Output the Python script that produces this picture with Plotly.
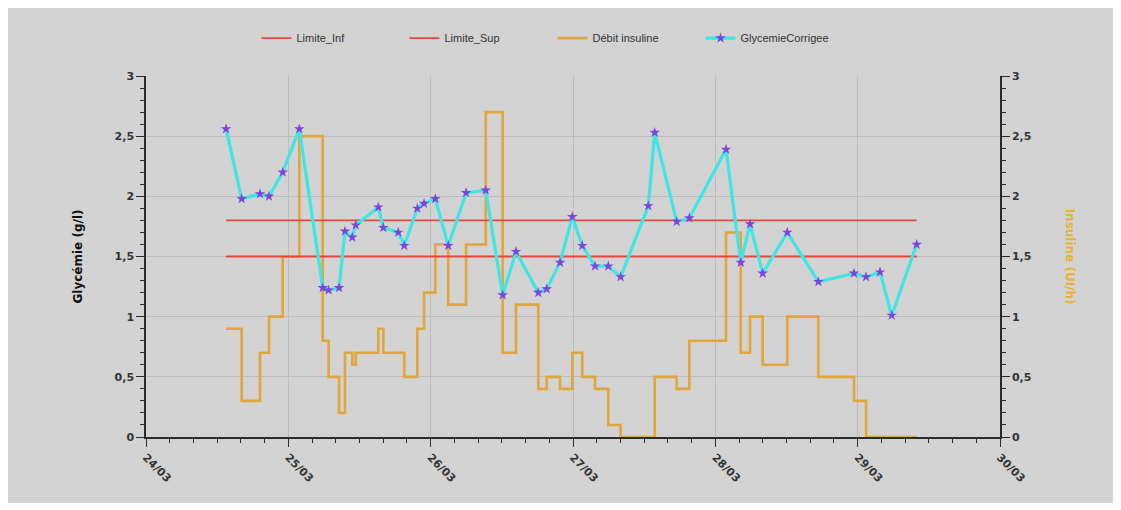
import plotly.graph_objects as go

# Glycaemia readings (g/l) and the insulin rate (UI/h) set at each reading
times = [
    "2021-03-24 13:30", "2021-03-24 16:08", "2021-03-24 19:13", "2021-03-24 20:44",
    "2021-03-24 23:03", "2021-03-25 01:51", "2021-03-25 05:48", "2021-03-25 06:48",
    "2021-03-25 08:33", "2021-03-25 09:33", "2021-03-25 10:47", "2021-03-25 11:22",
    "2021-03-25 15:10", "2021-03-25 16:01", "2021-03-25 18:32", "2021-03-25 19:33",
    "2021-03-25 21:45", "2021-03-25 22:53", "2021-03-26 00:47", "2021-03-26 02:58",
    "2021-03-26 05:58", "2021-03-26 09:17", "2021-03-26 12:09", "2021-03-26 14:23",
    "2021-03-26 18:09", "2021-03-26 19:34", "2021-03-26 21:49", "2021-03-26 23:53",
    "2021-03-27 01:34", "2021-03-27 03:43", "2021-03-27 05:57", "2021-03-27 08:02",
    "2021-03-27 12:42", "2021-03-27 13:47", "2021-03-27 17:29", "2021-03-27 19:37",
    "2021-03-28 01:48", "2021-03-28 04:17", "2021-03-28 05:51", "2021-03-28 07:59",
    "2021-03-28 12:08", "2021-03-28 17:22", "2021-03-28 23:23", "2021-03-29 01:25",
    "2021-03-29 03:46", "2021-03-29 05:44", "2021-03-29 09:57",
]
glycemie = [
    2.56, 1.98, 2.02, 2.00, 2.20, 2.56, 1.24, 1.22,
    1.24, 1.71, 1.66, 1.76, 1.91, 1.74, 1.70, 1.59,
    1.90, 1.94, 1.98, 1.59, 2.03, 2.05, 1.18, 1.54,
    1.20, 1.23, 1.45, 1.83, 1.59, 1.42, 1.42, 1.33,
    1.92, 2.53, 1.79, 1.82, 2.39, 1.45, 1.77, 1.36,
    1.70, 1.29, 1.36, 1.33, 1.37, 1.01, 1.60,
]
debit_insuline = [
    0.9, 0.3, 0.7, 1.0, 1.5, 2.5, 0.8, 0.5,
    0.2, 0.7, 0.6, 0.7, 0.9, 0.7, 0.7, 0.5,
    0.9, 1.2, 1.6, 1.1, 1.6, 2.7, 0.7, 1.1,
    0.4, 0.5, 0.4, 0.7, 0.5, 0.4, 0.1, 0.0,
    0.0, 0.5, 0.4, 0.8, 1.7, 0.7, 1.0, 0.6,
    1.0, 0.5, 0.3, 0.0, 0.0, 0.0, 0.0,
]
limite_inf = 1.5
limite_sup = 1.8

x_range = ["2021-03-24", "2021-03-30"]
y_ticks = [0, 0.5, 1, 1.5, 2, 2.5, 3]

BG = "#d3d3d3"
GRID = "#bdbdbd"
AXIS = "#2a2a2a"
RED = "#e8473d"
ORANGE = "#e2a73c"
CYAN = "#3fe6e4"
PURPLE = "#7b45e0"

tick_font = dict(family="DejaVu Sans", size=11, color="#333333", weight="bold")

fig = go.Figure()

span = [times[0], times[-1]]
fig.add_trace(go.Scatter(
    x=span, y=[limite_inf, limite_inf], name="Limite_Inf", yaxis="y2",
    mode="lines", line=dict(color=RED, width=1.8),
))
fig.add_trace(go.Scatter(
    x=span, y=[limite_sup, limite_sup], name="Limite_Sup", yaxis="y2",
    mode="lines", line=dict(color=RED, width=1.8),
))
fig.add_trace(go.Scatter(
    x=times, y=debit_insuline, name="Débit insuline", yaxis="y",
    mode="lines", line=dict(color=ORANGE, width=2.6, shape="hv"),
))
fig.add_trace(go.Scatter(
    x=times, y=glycemie, name="GlycemieCorrigee", yaxis="y2",
    mode="lines+markers", line=dict(color=CYAN, width=3.2),
    marker=dict(symbol="star", size=8, color=PURPLE),
))

axis_common = dict(
    range=[0, 3], tickvals=y_ticks, showline=True, linecolor=AXIS, linewidth=1.5,
    ticks="outside", ticklen=8, tickwidth=1.3, tickcolor=AXIS, tickfont=tick_font,
    minor=dict(dtick=0.1, ticks="outside", ticklen=4, tickcolor=AXIS, showgrid=False),
    zeroline=False, fixedrange=True,
)

fig.update_layout(
    width=1121, height=510,
    margin=dict(l=146, r=121, t=76, b=73),
    paper_bgcolor="white", plot_bgcolor=BG,
    separators=", ",
    showlegend=True,
    legend=dict(
        orientation="h", x=0.476, xanchor="center", y=1.105, yanchor="middle",
        font=dict(family="Liberation Sans", size=11, color="#333333"),
        bgcolor="rgba(0,0,0,0)", itemwidth=30, traceorder="normal",
        entrywidth=103, entrywidthmode="pixels",
    ),
    xaxis=dict(
        type="date", range=x_range, dtick=86400000, tick0="2021-03-24",
        tickformat="%d/%m", tickangle=45, tickfont=tick_font,
        showline=True, linecolor=AXIS, linewidth=1.5,
        ticks="outside", ticklen=8, tickwidth=1.3, tickcolor=AXIS,
        minor=dict(dtick=4 * 3600 * 1000, ticks="outside", ticklen=4, tickcolor=AXIS),
        showgrid=True, gridcolor=GRID, gridwidth=1, zeroline=False,
    ),
    yaxis=dict(side="right", showgrid=True, gridcolor=GRID, gridwidth=1, **axis_common),
    yaxis2=dict(side="left", overlaying="y", showgrid=False, **axis_common),
    shapes=[dict(
        type="rect", xref="paper", yref="paper", layer="below",
        x0=-0.1616, x1=1.1323, y0=-0.1828, y1=1.1884,
        fillcolor=BG, line=dict(width=0),
    )],
    annotations=[
        dict(text="Glycémie (g/l)", xref="paper", yref="paper", x=-0.0913, y=0.5,
             textangle=-90, showarrow=False,
             font=dict(family="DejaVu Sans", size=12, color="#111111", weight="bold")),
        dict(text="Insuline (UI/h)", xref="paper", yref="paper", x=1.0935, y=0.5,
             textangle=90, showarrow=False,
             font=dict(family="DejaVu Sans", size=12, color="#e8b431", weight="bold")),
    ],
)

fig.write_html("out.html")
